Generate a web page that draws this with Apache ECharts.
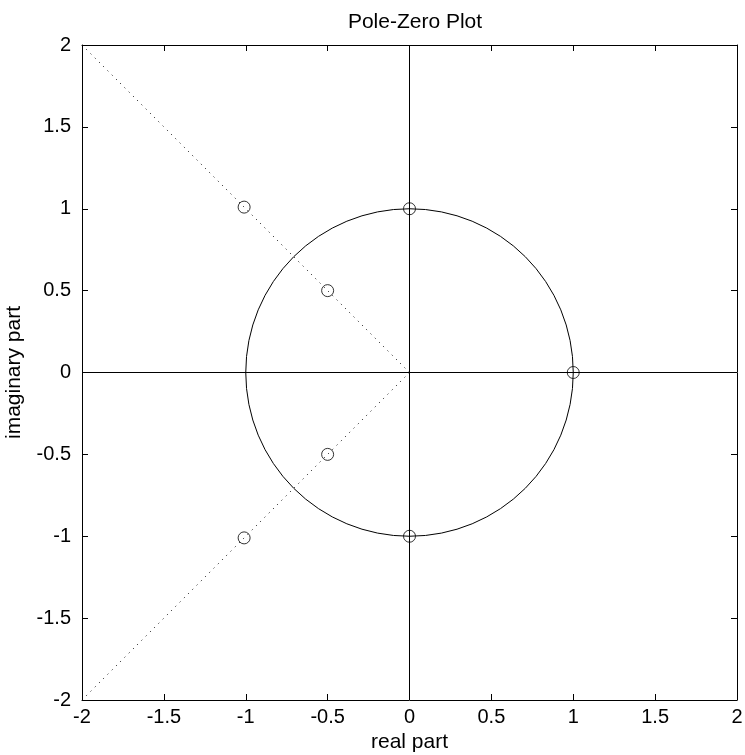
<!DOCTYPE html>
<html>
<head>
<meta charset="utf-8">
<script src="https://cdn.jsdelivr.net/npm/echarts@6/dist/echarts.min.js"></script>
<style>html,body{margin:0;padding:0;background:#fff;}#c{width:745px;height:755px;}</style>
</head>
<body>
<div id="c"></div>
<script>
// Data
const zerosRe = [0, 0, 1, -1.01, -0.5, -0.5, -1.01];
const zerosIm = [1, -1, 0, 1.01, 0.5, -0.5, -1.01];
const unitCircle = [[0, 0, 1]]; // center x, center y, radius
const dottedUpper = [[0, 0], [-2, 2]];
const dottedLower = [[0, 0], [-2, -2]];
const realAxisLine = [[-2, 0], [2, 0]];
const imagAxisLine = [[0, -2], [0, 2]];
const tickValues = [-2, -1.5, -1, -0.5, 0, 0.5, 1, 1.5, 2];
const tickLabels = ['-2', '-1.5', '-1', '-0.5', '0', '0.5', '1', '1.5', '2'];

function fmt(v) {
  const i = tickValues.findIndex(t => Math.abs(t - v) < 1e-9);
  return i >= 0 ? tickLabels[i] : '';
}

const FONT = 'Liberation Sans, Arial, Helvetica, sans-serif';
const chart = echarts.init(document.getElementById('c'), null, {renderer: 'canvas'});

const baseAxis = {
  type: 'value', min: -2, max: 2, interval: 0.5,
  axisLine: {show: true, onZero: false, lineStyle: {color: '#000', width: 1}},
  axisTick: {show: true, inside: true, length: 6, lineStyle: {color: '#000', width: 1}},
  splitLine: {show: false}
};

chart.setOption({
  animation: false,
  backgroundColor: '#fff',
  title: {
    text: 'Pole-Zero Plot', left: 410, top: 7, textAlign: 'center',
    textStyle: {fontFamily: FONT, fontSize: 21, fontWeight: 'normal', color: '#000'}
  },
  grid: {left: 82, right: 8, top: 45, bottom: 55, containLabel: false, outerBoundsMode: 'none'},
  xAxis: [
    Object.assign({}, baseAxis, {
      position: 'bottom',
      name: 'real part', nameLocation: 'middle', nameGap: 27,
      nameTextStyle: {fontFamily: FONT, fontSize: 21, color: '#000'},
      axisLabel: {show: true, formatter: fmt, fontFamily: FONT, fontSize: 20, color: '#000', margin: 7}
    }),
    Object.assign({}, baseAxis, {position: 'top', axisLabel: {show: false}})
  ],
  yAxis: [
    Object.assign({}, baseAxis, {
      position: 'left',
      name: 'imaginary part', nameLocation: 'middle', nameGap: 57,
      nameTextStyle: {fontFamily: FONT, fontSize: 21, color: '#000'},
      axisLabel: {show: true, formatter: fmt, fontFamily: FONT, fontSize: 20, color: '#000', margin: 11}
    }),
    Object.assign({}, baseAxis, {position: 'right', axisLabel: {show: false}})
  ],
  series: [
    {
      type: 'line', data: realAxisLine, symbol: 'none', silent: true,
      lineStyle: {color: '#000', width: 1}
    },
    {
      type: 'line', data: imagAxisLine, symbol: 'none', silent: true,
      lineStyle: {color: '#000', width: 1}
    },
    {
      type: 'line', data: dottedUpper, symbol: 'none', silent: true,
      lineStyle: {color: '#000', width: 1, type: [1, 5]}
    },
    {
      type: 'line', data: dottedLower, symbol: 'none', silent: true,
      lineStyle: {color: '#000', width: 1, type: [1, 5]}
    },
    {
      type: 'custom', data: unitCircle, silent: true,
      renderItem: function (params, api) {
        const c = api.coord([api.value(0), api.value(1)]);
        const s = api.size([api.value(2), api.value(2)]);
        return {
          type: 'circle',
          shape: {cx: c[0], cy: c[1], r: s[0]},
          style: {fill: 'none', stroke: '#000', lineWidth: 1}
        };
      }
    },
    {
      type: 'scatter',
      data: zerosRe.map((r, i) => [r, zerosIm[i]]),
      symbol: 'circle', symbolSize: 12,
      itemStyle: {color: 'rgba(0,0,0,0)', borderColor: '#000', borderWidth: 1},
      z: 5
    }
  ]
});
</script>
</body>
</html>
